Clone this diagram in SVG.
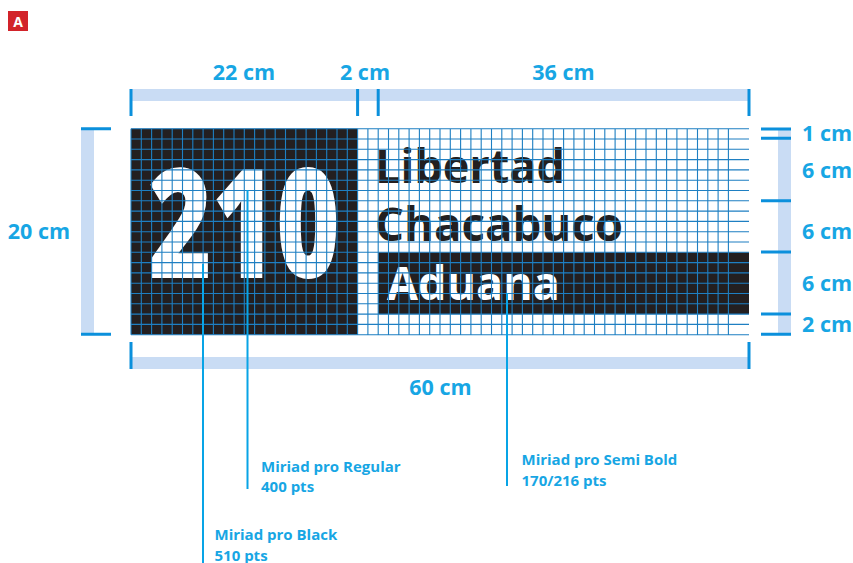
<svg xmlns="http://www.w3.org/2000/svg" width="853" height="563" viewBox="0 0 853 563">
<style>
.dim{font-family:"Open Sans","Liberation Sans",sans-serif;font-weight:700;font-size:21.5px;fill:#17a6e4}
.lbl{font-family:"Open Sans","Liberation Sans",sans-serif;font-weight:700;font-size:15px;fill:#17a6e4}
.band{fill:#c9dcf4}
.tick{stroke:#0b90dc;stroke-width:3;fill:none}
.lead{stroke:#08a4e6;stroke-width:2;fill:none}
.dark{fill:#231f20}
.grid{stroke:#1e7fc2;stroke-width:1.1;fill:none}
.big{font-family:"Open Sans","Liberation Sans",sans-serif;font-weight:800}
.name{font-family:"Open Sans","Liberation Sans",sans-serif;font-weight:700;font-size:46px}
</style>
<rect width="853" height="563" fill="#ffffff"/>
<g id="badge">
<rect x="8" y="11" width="20" height="20" fill="#d2232a"/>
<text x="18" y="26.5" text-anchor="middle" font-family="Open Sans, Liberation Sans, sans-serif" font-weight="700" font-size="14" fill="#ffffff">A</text>
</g>
<g id="sign">
<rect x="131" y="128.7" width="618" height="206" fill="#ffffff"/>
<rect class="dark" x="131" y="128.7" width="226.6" height="206"/>
<rect class="dark" x="378.2" y="252.3" width="370.8" height="61.8"/>
<text class="big" x="148" y="278.3" font-size="153" fill="#ffffff" textLength="192" lengthAdjust="spacingAndGlyphs">210</text>
<text class="name" x="375" y="183.3" fill="#231f20" textLength="190" lengthAdjust="spacingAndGlyphs">Libertad</text>
<text class="name" x="375" y="240.7" fill="#231f20" textLength="248" lengthAdjust="spacingAndGlyphs">Chacabuco</text>
<text class="name" x="387" y="300" fill="#ffffff" textLength="173" lengthAdjust="spacingAndGlyphs">Aduana</text>
<path class="grid" d="M131 128.7v206m10.3-206v206m10.3-206v206m10.3-206v206m10.3-206v206m10.3-206v206m10.3-206v206m10.3-206v206m10.3-206v206m10.3-206v206m10.3-206v206m10.3-206v206m10.3-206v206m10.3-206v206m10.3-206v206m10.3-206v206m10.3-206v206m10.3-206v206m10.3-206v206m10.3-206v206m10.3-206v206m10.3-206v206m10.3-206v206m10.3-206v206m10.3-206v206m10.3-206v206m10.3-206v206m10.3-206v206m10.3-206v206m10.3-206v206m10.3-206v206m10.3-206v206m10.3-206v206m10.3-206v206m10.3-206v206m10.3-206v206m10.3-206v206m10.3-206v206m10.3-206v206m10.3-206v206m10.3-206v206m10.3-206v206m10.3-206v206m10.3-206v206m10.3-206v206m10.3-206v206m10.3-206v206m10.3-206v206m10.3-206v206m10.3-206v206m10.3-206v206m10.3-206v206m10.3-206v206m10.3-206v206m10.3-206v206m10.3-206v206m10.3-206v206m10.3-206v206m10.3-206v206M131 128.7h618m-618 10.3h618m-618 10.3h618m-618 10.3h618m-618 10.3h618m-618 10.3h618m-618 10.3h618m-618 10.3h618m-618 10.3h618m-618 10.3h618m-618 10.3h618m-618 10.3h618m-618 10.3h618m-618 10.3h618m-618 10.3h618m-618 10.3h618m-618 10.3h618m-618 10.3h618m-618 10.3h618m-618 10.3h618m-618 10.3h618"/>
</g>
<g id="dim-top">
<rect class="band" x="131" y="89" width="618" height="12"/>
<path class="tick" d="M131 89V116M357.6 89V116M378.2 89V116M749 89V116"/>
<text class="dim" x="244" y="80" text-anchor="middle">22 cm</text>
<text class="dim" x="365" y="80" text-anchor="middle">2 cm</text>
<text class="dim" x="563.5" y="80" text-anchor="middle">36 cm</text>
</g>
<g id="dim-left">
<rect class="band" x="81" y="128.7" width="13" height="206"/>
<path class="tick" d="M81 128.7H111M81 334.3H111"/>
<text class="dim" x="39" y="239" text-anchor="middle">20 cm</text>
</g>
<g id="dim-bottom">
<rect class="band" x="131" y="357" width="618" height="12"/>
<path class="tick" d="M131 342V369M749 342V369"/>
<text class="dim" x="440.5" y="395" text-anchor="middle">60 cm</text>
</g>
<g id="dim-right">
<rect class="band" x="778" y="128.7" width="13" height="206"/>
<path class="tick" d="M761 129H791M761 138.3H791M761 200.7H791M761 252H791M761 314H791M761 334.3H791"/>
<text class="dim" x="802" y="141">1 cm</text>
<text class="dim" x="802" y="177.7">6 cm</text>
<text class="dim" x="802" y="239">6 cm</text>
<text class="dim" x="802" y="290.7">6 cm</text>
<text class="dim" x="802" y="332.3">2 cm</text>
</g>
<g id="connectors">
<path class="lead" d="M203 264V563"/>
<path class="lead" d="M247.5 190V489"/>
<path class="lead" d="M507 293V486"/>
</g>
<g id="label-regular">
<text class="lbl" x="261" y="471.5">Miriad pro Regular</text>
<text class="lbl" x="261" y="492">400 pts</text>
</g>
<g id="label-semibold">
<text class="lbl" x="521.5" y="465">Miriad pro Semi Bold</text>
<text class="lbl" x="521.5" y="485.5">170/216 pts</text>
</g>
<g id="label-black">
<text class="lbl" x="214.5" y="540">Miriad pro Black</text>
<text class="lbl" x="214.5" y="560.5">510 pts</text>
</g>
</svg>
